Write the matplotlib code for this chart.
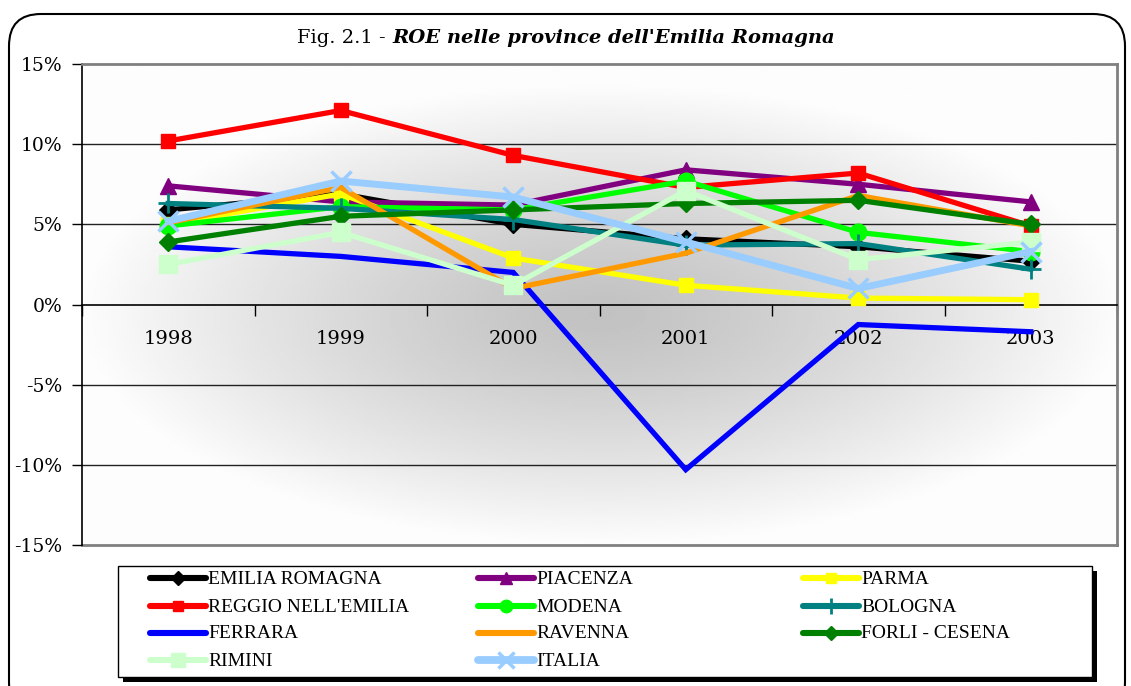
import numpy as np
import matplotlib
matplotlib.use("Agg")
import matplotlib.pyplot as plt
from matplotlib.patches import FancyBboxPatch, Rectangle

years = ["1998", "1999", "2000", "2001", "2002", "2003"]

# ROE values (%)
emilia_romagna = [5.9, 6.9, 5.0, 4.1, 3.6, 2.7]
piacenza = [7.4, 6.4, 6.2, 8.4, 7.5, 6.4]
parma = [5.0, 6.9, 2.9, 1.2, 0.4, 0.3]
reggio = [10.2, 12.1, 9.3, 7.3, 8.2, 4.9]
modena = [4.9, 6.1, 5.9, 7.7, 4.5, 3.3]
bologna = [6.3, 6.0, 5.3, 3.7, 3.8, 2.2]
ferrara = [3.6, 3.0, 2.0, -10.3, -1.25, -1.7]
ravenna = [5.1, 7.3, 1.0, 3.2, 6.8, 4.9]
forli = [3.9, 5.5, 5.9, 6.3, 6.5, 5.0]
rimini = [2.5, 4.5, 1.2, 7.1, 2.8, 3.9]
italia = [5.2, 7.7, 6.7, 3.9, 1.0, 3.3]

series = [
    ("EMILIA ROMAGNA", emilia_romagna, "#000000", "D", 9, 1.0, 3.8),
    ("PIACENZA", piacenza, "#800080", "^", 11, 1.0, 3.8),
    ("PARMA", parma, "#FFFF00", "s", 10, 1.0, 3.8),
    ("REGGIO NELL'EMILIA", reggio, "#FF0000", "s", 10, 1.0, 3.8),
    ("MODENA", modena, "#00FF00", "o", 12, 1.0, 3.8),
    ("BOLOGNA", bologna, "#008080", "+", 15, 2.0, 3.8),
    ("FERRARA", ferrara, "#0000FF", "None", 0, 1.0, 3.8),
    ("RAVENNA", ravenna, "#FF9900", "None", 0, 1.0, 3.8),
    ("FORLI - CESENA", forli, "#008000", "D", 9, 1.0, 3.8),
    ("RIMINI", rimini, "#CCFFCC", "s", 13, 1.0, 3.8),
    ("ITALIA", italia, "#99CCFF", "x", 15, 2.5, 5.0),
]

W, H = 1131, 686
fig = plt.figure(figsize=(W / 100, H / 100), dpi=100)
fig.patch.set_facecolor("white")

# canvas in pixel coordinates for border, title and legend
cv = fig.add_axes([0, 0, 1, 1], zorder=0)
cv.set_xlim(0, W)
cv.set_ylim(H, 0)
cv.axis("off")
cv.add_patch(FancyBboxPatch((9, 14), 1116, 700, boxstyle="round,pad=0,rounding_size=32",
                            facecolor="white", edgecolor="black", lw=1.5, clip_on=False))

cv.text(392, 38, "Fig. 2.1 - ", ha="right", va="center", fontsize=14, family="DejaVu Serif")
cv.text(392, 38, "ROE nelle province dell'Emilia Romagna", ha="left", va="center",
        fontsize=14, family="DejaVu Serif", fontweight="bold", fontstyle="italic")

# main plot
ax = fig.add_axes([82 / W, 1 - 545 / H, 1035 / W, 481 / H], zorder=1)
x = np.arange(len(years))
ax.set_xlim(-0.5, len(years) - 0.5)
ax.set_ylim(-15, 15)

# radial gray background, darkest just around the 0% line
u = np.linspace(0, 1035, 400)
v = np.linspace(0, 481, 200)
U, V = np.meshgrid(u, v)
r = np.sqrt(((U - 520) / 520) ** 2 + ((V - 250) / 230) ** 2)
bg = 0.76 + 0.23 * np.clip(r, 0, 1) ** 1.3
ax.imshow(bg, extent=(0, 1, 0, 1), transform=ax.transAxes, cmap="gray", vmin=0, vmax=1,
          aspect="auto", zorder=0, interpolation="bilinear")

for yv in [10, 5, -5, -10]:
    ax.axhline(yv, color="#222222", lw=1.0, zorder=1)
ax.axhline(-15, color="#808080", lw=2, zorder=1, clip_on=False)

for name, vals, col, mk, ms, mew, lw in series:
    ax.plot(x, vals, color=col, lw=lw, marker=mk, markersize=ms, markeredgewidth=mew,
            markeredgecolor=col, markerfacecolor=col, zorder=3, solid_joinstyle="miter")

for s in ["top", "right"]:
    ax.spines[s].set_color("#808080")
    ax.spines[s].set_linewidth(2)
ax.spines["left"].set_color("black")
ax.spines["left"].set_linewidth(1.2)
ax.spines["bottom"].set_position(("data", 0))
ax.spines["bottom"].set_color("black")
ax.spines["bottom"].set_linewidth(1.2)

ax.set_yticks([15, 10, 5, 0, -5, -10, -15])
ax.set_yticklabels(["15%", "10%", "5%", "0%", "-5%", "-10%", "-15%"],
                   family="DejaVu Serif", fontsize=13.5)
ax.tick_params(axis="y", direction="out", length=7, width=1, pad=7)

ax.set_xticks(np.arange(-0.5, len(years), 1.0))
ax.set_xticklabels([])
ax.set_xticks(x, minor=True)
ax.set_xticklabels(years, minor=True, family="DejaVu Serif", fontsize=14)
ax.tick_params(axis="x", which="major", direction="out", length=8, width=1)
ax.tick_params(axis="x", which="minor", length=0, pad=18)

# legend drawn on canvas
lx0, ly0, lx1, ly1 = 118, 566, 1092, 677
cv.add_patch(Rectangle((lx0 + 5, ly0 + 5), lx1 - lx0, ly1 - ly0, facecolor="black", edgecolor="none"))
cv.add_patch(Rectangle((lx0, ly0), lx1 - lx0, ly1 - ly0, facecolor="white", edgecolor="black", lw=1))
col_x = [150, 478, 803]
row_y = [578, 606, 633, 660]
for i, (name, vals, col, mk, ms, mew, lw) in enumerate(series):
    cx = col_x[i % 3]
    cy = row_y[i // 3]
    cv.plot([cx, cx + 56], [cy, cy], color=col, lw=lw + 0.6, solid_capstyle="round")
    if mk != "None":
        cv.plot([cx + 28], [cy], marker=mk, markersize=ms * 0.75, color=col,
                markeredgewidth=mew, markeredgecolor=col)
    cv.text(cx + 58, cy + 1, name, ha="left", va="center", fontsize=14,
            family="Liberation Serif")

fig.savefig("out.png", dpi=100)
